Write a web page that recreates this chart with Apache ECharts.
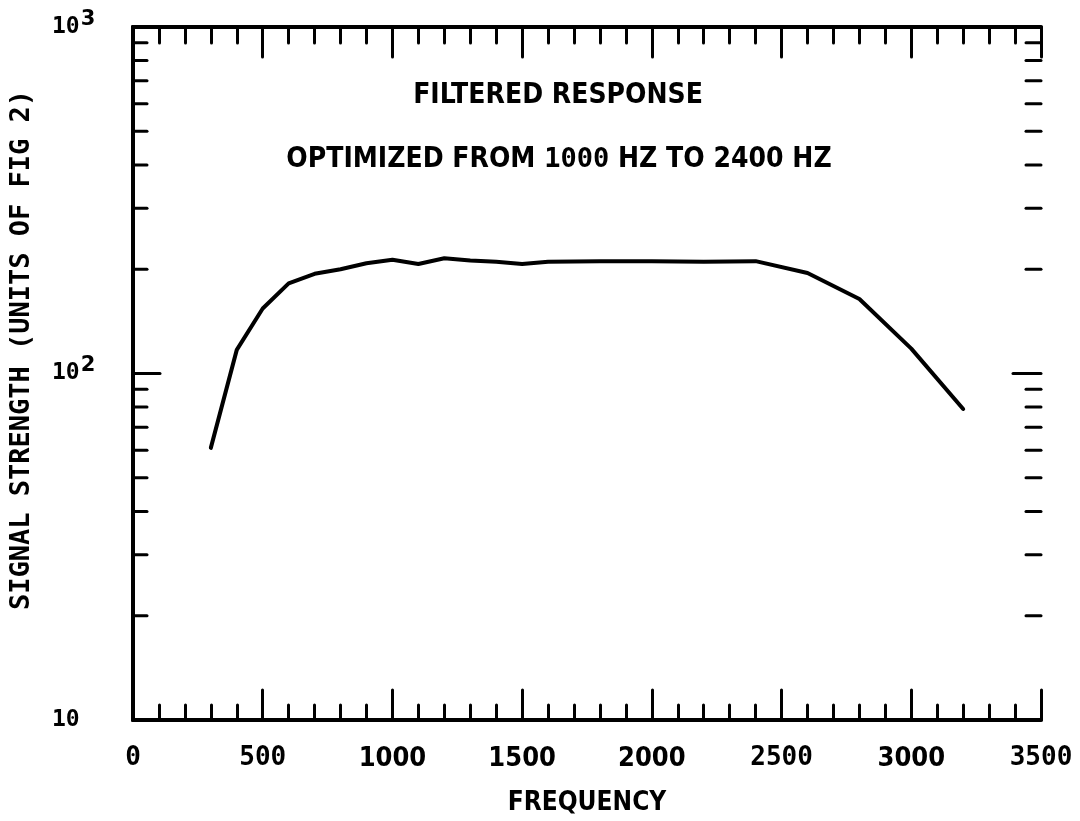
<!DOCTYPE html>
<html>
<head>
<meta charset="utf-8">
<script src="https://cdn.jsdelivr.net/npm/echarts@6/dist/echarts.min.js"></script>
<style>html,body{margin:0;padding:0;background:#fff}#chart{width:1080px;height:821px}</style>
</head>
<body>
<div id="chart"></div>
<script>
// ---- data ----
const frequency = [300, 400, 500, 600, 700, 800, 900, 1000, 1100, 1200, 1300, 1400, 1500, 1600, 1800, 2000, 2200, 2400, 2600, 2800, 3000, 3200];
const strength  = [61, 117, 154, 182, 194, 200, 208, 213, 207, 215, 212, 210, 207, 210, 211, 211, 210, 211, 195, 164, 118, 79];
const xTickLabels = ['0', '500', '1000', '1500', '2000', '2500', '3000', '3500'];
const dotMatrixXLabels = ['0', '500', '2500', '3500'];
const yMinorTicks = [20, 30, 40, 50, 60, 70, 80, 90, 200, 300, 400, 500, 600, 700, 800, 900];
const yMajorTicks = [100];
const yTickLabels = { 10: '10', 100: '10{s|2}', 1000: '10{s|3}' };
const titleLines = ['FILTERED RESPONSE', 'OPTIMIZED FROM {d|1000} HZ TO 2400 HZ'];
const xName = 'FREQUENCY';
const yName = 'SIGNAL STRENGTH (UNITS OF FIG 2)';

const NARROW = '"Liberation Sans Narrow", "DejaVu Sans Condensed", "Roboto Condensed", sans-serif';
const MONO = '"DejaVu Sans Mono", "Liberation Mono", monospace';

const chart = echarts.init(document.getElementById('chart'), null, { renderer: 'canvas' });

const axisLineStyle = { color: '#000', width: 4 };
const tickStyle = { color: '#000', width: 3, cap: 'round' };

const yTickData = yMinorTicks.map(v => [0, v, 0]).concat(yMajorTicks.map(v => [0, v, 1]));

const option = {
  animation: false,
  backgroundColor: '#fff',
  grid: { left: 133, right: 39, top: 27, bottom: 97, containLabel: false },
  xAxis: [
    {
      type: 'value', position: 'bottom', min: 0, max: 3500, interval: 500,
      name: xName, nameLocation: 'middle', nameGap: 70,
      nameTextStyle: { fontFamily: NARROW, fontWeight: 'bold', fontSize: 26, color: '#000' },
      axisLine: { show: true, lineStyle: axisLineStyle },
      axisTick: { show: true, inside: true, length: 30, lineStyle: tickStyle },
      minorTick: { show: true, splitNumber: 5, length: 15, lineStyle: tickStyle },
      splitLine: { show: false },
      axisLabel: {
        margin: 25,
        formatter: function (v) {
          const s = xTickLabels[Math.round(v / 500)];
          return dotMatrixXLabels.indexOf(s) >= 0 ? '{d|' + s + '}' : '{c|' + s + '}';
        },
        rich: {
          d: { fontFamily: MONO, fontWeight: 'bold', fontSize: 26, color: '#000' },
          c: { fontFamily: NARROW, fontWeight: 'bold', fontSize: 27, color: '#000' }
        }
      }
    },
    {
      type: 'value', position: 'top', min: 0, max: 3500, interval: 500,
      axisLine: { show: true, lineStyle: axisLineStyle },
      axisTick: { show: true, inside: true, length: 30, lineStyle: tickStyle },
      minorTick: { show: true, splitNumber: 5, length: 16, lineStyle: tickStyle },
      splitLine: { show: false },
      axisLabel: { show: false }
    }
  ],
  yAxis: [
    {
      type: 'log', logBase: 10, min: 10, max: 1000, position: 'left',
      axisLine: { show: true, lineStyle: axisLineStyle },
      axisTick: { show: false },
      minorTick: { show: false },
      splitLine: { show: false },
      axisLabel: {
        align: 'left', margin: 81,
        formatter: function (v) { return yTickLabels[Math.round(v)] || ''; },
        fontFamily: MONO, fontWeight: 'bold', fontSize: 23, color: '#000',
        rich: { s: { fontFamily: '"DejaVu Sans", sans-serif', fontSize: 21, color: '#000', verticalAlign: 'bottom', padding: [0, 0, 15, 1] } }
      }
    },
    {
      type: 'log', logBase: 10, min: 10, max: 1000, position: 'right',
      axisLine: { show: true, lineStyle: axisLineStyle },
      axisTick: { show: false },
      minorTick: { show: false },
      splitLine: { show: false },
      axisLabel: { show: false }
    }
  ],
  graphic: [
    {
      type: 'text', x: 558, y: 96,
      style: { text: titleLines[0], align: 'center', verticalAlign: 'middle', fill: '#000',
        font: 'bold 28px ' + NARROW }
    },
    {
      type: 'text', x: 559, y: 160,
      style: { text: titleLines[1], align: 'center', verticalAlign: 'middle', fill: '#000',
        font: 'bold 28px ' + NARROW,
        rich: { d: { fontFamily: MONO, fontWeight: 'bold', fontSize: 27, fill: '#000' } } }
    },
    {
      type: 'text', x: 22, y: 350, rotation: Math.PI / 2,
      style: { text: yName, align: 'center', verticalAlign: 'middle', fill: '#000',
        font: 'bold 27px ' + MONO }
    }
  ],
  series: [
    {
      type: 'line', xAxisIndex: 0, yAxisIndex: 0,
      data: frequency.map((f, i) => [f, strength[i]]),
      showSymbol: false, smooth: false,
      lineStyle: { color: '#000', width: 4, cap: 'round', join: 'round' }
    },
    {
      type: 'custom', xAxisIndex: 0, yAxisIndex: 0, clip: false, silent: true,
      data: yTickData,
      encode: { x: 0, y: 1 },
      renderItem: function (params, api) {
        const v = api.value(1);
        const major = api.value(2) === 1;
        const pl = api.coord([0, v]);
        const pr = api.coord([3500, v]);
        const st = { stroke: '#000', lineWidth: 3, lineCap: 'round' };
        const lenL = major ? 27 : 14;
        const lenR = major ? 28 : 15;
        return {
          type: 'group',
          children: [
            { type: 'line', shape: { x1: pl[0], y1: pl[1], x2: pl[0] + lenL, y2: pl[1] }, style: st },
            { type: 'line', shape: { x1: pr[0], y1: pr[1], x2: pr[0] - lenR, y2: pr[1] }, style: st }
          ]
        };
      }
    }
  ]
};
chart.setOption(option);
</script>
</body>
</html>
